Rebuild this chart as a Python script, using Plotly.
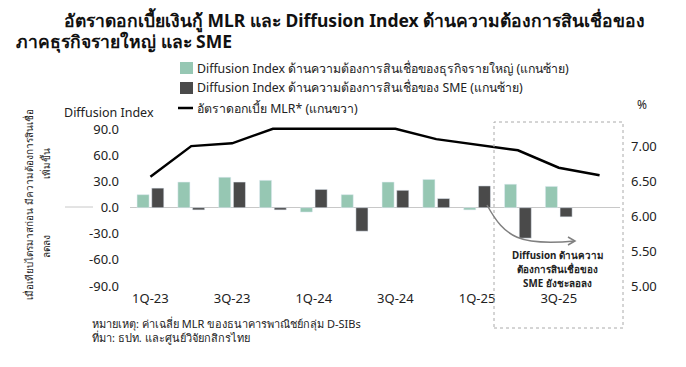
import plotly.graph_objects as go

# ---------------- data ----------------
quarters = ["1Q-23", "2Q-23", "3Q-23", "4Q-23", "1Q-24", "2Q-24",
            "3Q-24", "4Q-24", "1Q-25", "2Q-25", "3Q-25", "4Q-25"]
large_corp_di = [15, 29.5, 35, 31.5, -5, 15, 29.5, 32.5, -2.5, 27, 24.5, None]
sme_di = [22.5, -2.5, 29.5, -2.5, 21, -27, 20, 10.5, 25, -35, -10.5, None]
mlr_rate = [6.57, 7.01, 7.05, 7.26, 7.26, 7.26, 7.26, 7.11, 7.03, 6.95, 6.70, 6.59]
x_tick_labels = ["1Q-23", "3Q-23", "1Q-24", "3Q-24", "1Q-25", "3Q-25"]
left_ticks = [90, 60, 30, 0, -30, -60, -90]
right_ticks = [7.0, 6.5, 6.0, 5.5, 5.0]

GREEN = "#96C7B3"
DARK = "#4A4A4A"
FONT = "Noto Sans, sans-serif"

# page body has an 8px margin, so the figure is laid out 8px smaller/shifted
OFF = 8
W, H = 686 - OFF, 367 - OFF
L, R, T, B = 130 - OFF, 66, 112 - OFF, 81


def px(x):
    return (x - OFF - L) / (W - L - R)


def py(y):
    return (H - B - (y - OFF)) / (H - T - B)


fig = go.Figure()
fig.add_trace(go.Bar(x=quarters, y=large_corp_di, marker_color=GREEN,
                     name="large", showlegend=False))
fig.add_trace(go.Bar(x=quarters, y=sme_di, marker_color=DARK,
                     name="sme", showlegend=False))
fig.add_trace(go.Scatter(x=quarters, y=mlr_rate, yaxis="y2", mode="lines",
                         line=dict(color="black", width=2.5),
                         name="mlr", showlegend=False))

ann = []


def text(x, y, s, size=12, bold=False, xanchor="left", color="#222", angle=0, align="left"):
    ann.append(dict(x=px(x), y=py(y), xref="paper", yref="paper", text=("<b>%s</b>" % s) if bold else s,
                    showarrow=False, xanchor=xanchor, yanchor="middle", align=align,
                    textangle=angle, font=dict(size=size, color=color, family=FONT)))


# title
text(62, 20, "อัตราดอกเบี้ยเงินกู้ MLR และ Diffusion Index ด้านความต้องการสินเชื่อของ", size=17.5, bold=True, color="#111")
text(14, 41, "ภาคธุรกิจรายใหญ่ และ SME", size=17.5, bold=True, color="#111")

# legend (manual)
text(195, 68, "Diffusion Index ด้านความต้องการสินเชื่อของธุรกิจรายใหญ่ (แกนซ้าย)", size=12.3)
text(195, 88, "Diffusion Index ด้านความต้องการสินเชื่อของ SME (แกนซ้าย)", size=12.3)
text(195, 108, "อัตราดอกเบี้ย MLR* (แกนขวา)", size=12.3)

# axis titles
text(62, 112, "Diffusion Index", size=12.5)
text(635, 104, "%", size=12)

# rotated left note
text(29, 205, "เมื่อเทียบไตรมาสก่อน มีความต้องการสินเชื่อ", size=10, angle=-90, xanchor="center")
text(46, 164, "เพิ่มขึ้น", size=10, angle=-90, xanchor="center")
text(46, 247, "ลดลง", size=10, angle=-90, xanchor="center")

# callout (three lines)
text(557, 255, "Diffusion ด้านความ", size=9.8, bold=True, xanchor="center")
text(557, 269, "ต้องการสินเชื่อของ", size=9.8, bold=True, xanchor="center")
text(557, 283, "SME ยังชะลอลง", size=9.8, bold=True, xanchor="center")

# footnotes
text(90, 323, "หมายเหตุ: ค่าเฉลี่ย MLR ของธนาคารพาณิชย์กลุ่ม D-SIBs", size=11)
text(90, 337, "ที่มา: ธปท. และศูนย์วิจัยกสิกรไทย", size=11)

shapes = []
# legend symbols
shapes.append(dict(type="rect", xref="paper", yref="paper", x0=px(180), x1=px(193), y0=py(62), y1=py(74),
                   fillcolor=GREEN, line=dict(width=0)))
shapes.append(dict(type="rect", xref="paper", yref="paper", x0=px(180), x1=px(193), y0=py(82), y1=py(94),
                   fillcolor=DARK, line=dict(width=0)))
shapes.append(dict(type="line", xref="paper", yref="paper", x0=px(178), x1=px(193), y0=py(108), y1=py(108),
                   line=dict(color="black", width=2.5)))
# stray grey segment left of axis
shapes.append(dict(type="line", xref="paper", yref="paper", x0=px(65), x1=px(93), y0=py(207), y1=py(207),
                   line=dict(color="#c8c8c8", width=1)))
# dashed highlight box
shapes.append(dict(type="rect", xref="paper", yref="paper", x0=px(494), x1=px(623), y0=py(328), y1=py(122),
                   line=dict(color="#aaaaaa", width=1, dash="dot"), fillcolor="rgba(0,0,0,0)"))
# curved arrow
p = "M %f %f C %f %f, %f %f, %f %f" % (px(487), py(205), px(505), py(238), px(520), py(246), px(575), py(241))
shapes.append(dict(type="path", xref="paper", yref="paper", path=p, line=dict(color="#808080", width=1.5)))
p2 = "M %f %f L %f %f L %f %f" % (px(568), py(237), px(575), py(241), px(568), py(245))
shapes.append(dict(type="path", xref="paper", yref="paper", path=p2, line=dict(color="#808080", width=1.5)))

fig.update_layout(
    width=W, height=H,
    margin=dict(l=L, r=R, t=T, b=B, pad=0),
    paper_bgcolor="white", plot_bgcolor="white",
    barmode="group", bargap=0.28, bargroupgap=0.18,
    font=dict(family=FONT, size=13, color="#222"),
    xaxis=dict(type="category", categoryorder="array", categoryarray=quarters,
               tickmode="array", tickvals=x_tick_labels, ticktext=x_tick_labels,
               showgrid=False, showline=False, ticks="", tickfont=dict(size=13),
               ticklabelstandoff=3),
    yaxis=dict(range=[-90, 110], tickmode="array", tickvals=left_ticks,
               ticktext=["%.1f" % v for v in left_ticks], showgrid=False, showline=False,
               zeroline=True, zerolinecolor="#c8c8c8", zerolinewidth=1, ticks="",
               tickfont=dict(size=13), ticklabelstandoff=10),
    yaxis2=dict(range=[5.0, 7.5], overlaying="y", side="right", tickmode="array",
                tickvals=right_ticks, ticktext=["%.2f" % v for v in right_ticks],
                showgrid=False, showline=False, zeroline=False, ticks="",
                tickfont=dict(size=13), ticklabelstandoff=10),
    annotations=ann,
    shapes=shapes,
)

fig.write_html("out.html")
